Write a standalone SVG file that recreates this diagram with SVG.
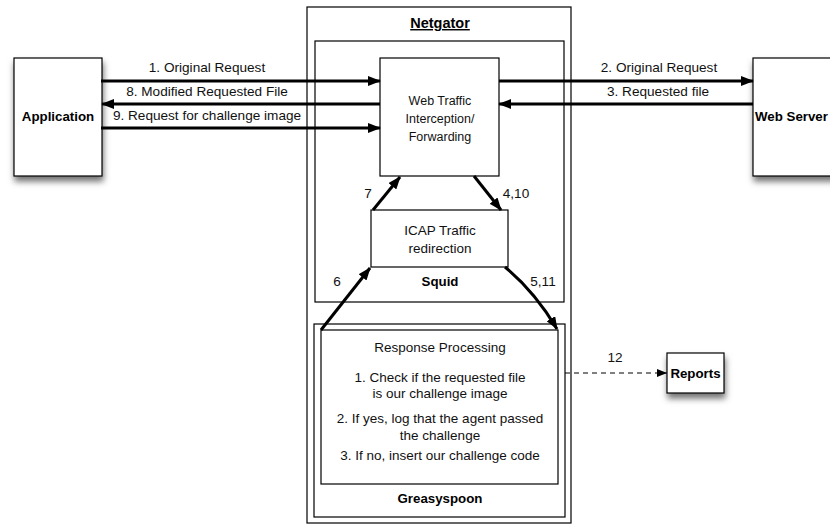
<svg xmlns="http://www.w3.org/2000/svg" width="830" height="525" viewBox="0 0 830 525">
<defs>
<style>
.box{fill:#fff;stroke:#000;stroke-width:1.2}
.t{font-family:"Liberation Sans",Arial,sans-serif;font-size:13.5px;fill:#111;text-anchor:middle}
.w{font-size:12.5px}
.b{font-family:"Liberation Sans",Arial,sans-serif;font-size:13.3px;font-weight:bold;fill:#000;text-anchor:middle}
.al{font-family:"Liberation Sans",Arial,sans-serif;font-size:13.6px;fill:#111;text-anchor:middle}
.c{fill:none;stroke:#000;stroke-width:3}
.d{fill:none;stroke:#000;stroke-width:1;stroke-dasharray:5,4}
</style>
<marker id="ah" viewBox="0 0 13 10" refX="12" refY="5" markerWidth="13" markerHeight="10" markerUnits="userSpaceOnUse" orient="auto">
<path d="M0,0 L13,5 L0,10 Z" fill="#000"/>
</marker>
<marker id="as" viewBox="0 0 10 8" refX="10" refY="4" markerWidth="10" markerHeight="8" markerUnits="userSpaceOnUse" orient="auto">
<path d="M0,0 L10,4 L0,8 Z" fill="#000"/>
</marker>
<filter id="sh" x="-20%" y="-20%" width="150%" height="160%">
<feDropShadow dx="1" dy="5" stdDeviation="3" flood-color="#000" flood-opacity="0.55"/>
</filter>
</defs>

<g id="application">
<rect class="box" x="14" y="58" width="88" height="118" filter="url(#sh)"/>
<text class="b" x="58" y="121">Application</text>
</g>

<g id="webserver">
<rect class="box" x="753" y="58" width="90" height="118" filter="url(#sh)"/>
<text class="b" x="755" y="121" style="text-anchor:start">Web Server</text>
</g>

<g id="reports">
<rect class="box" x="667" y="353" width="57" height="40" filter="url(#sh)"/>
<text class="b" x="695.5" y="378">Reports</text>
</g>

<g id="netgator">
<rect class="box" x="307" y="7" width="264" height="516"/>
<text class="b" x="440" y="28" style="font-size:14.5px;text-decoration:underline">Netgator</text>
</g>

<g id="squid">
<rect class="box" x="315" y="41" width="249" height="261"/>
<text class="b" x="440" y="286">Squid</text>
</g>

<g id="webtraffic">
<rect class="box" x="380" y="58" width="119" height="118"/>
<text class="t w" x="440" y="105">Web Traffic</text>
<text class="t w" x="440" y="123">Interception/</text>
<text class="t w" x="440" y="141">Forwarding</text>
</g>

<g id="icap">
<rect class="box" x="371" y="210" width="137" height="57"/>
<text class="t" x="440" y="235">ICAP Traffic</text>
<text class="t" x="440" y="253">redirection</text>
</g>

<g id="greasyspoon">
<rect class="box" x="314" y="324" width="251" height="193"/>
<rect class="box" x="321" y="330" width="237" height="154"/>
<text class="t" x="440" y="352">Response Processing</text>
<text class="t" x="440" y="382">1. Check if the requested file</text>
<text class="t" x="440" y="398">is our challenge image</text>
<text class="t" x="440" y="423">2. If yes, log that the agent passed</text>
<text class="t" x="440" y="440">the challenge</text>
<text class="t" x="440" y="460">3. If no, insert our challenge code</text>
<text class="b" x="440" y="503">Greasyspoon</text>
</g>

<g id="connectors">
<line class="c" x1="101" y1="81" x2="380" y2="81" marker-end="url(#ah)"/>
<line class="c" x1="380" y1="104" x2="102" y2="104" marker-end="url(#ah)"/>
<line class="c" x1="101" y1="128" x2="380" y2="128" marker-end="url(#ah)"/>
<line class="c" x1="499" y1="81" x2="753" y2="81" marker-end="url(#ah)"/>
<line class="c" x1="753" y1="104" x2="499" y2="104" marker-end="url(#ah)"/>
<line class="c" x1="373" y1="210" x2="400" y2="177" marker-end="url(#ah)"/>
<line class="c" x1="474" y1="176" x2="501" y2="210" marker-end="url(#ah)"/>
<line class="c" x1="321" y1="330" x2="370" y2="268" marker-end="url(#ah)"/>
<path class="c" d="M505,267 Q535,292 557,329" marker-end="url(#ah)"/>
<line class="d" x1="565" y1="373" x2="667" y2="373" marker-end="url(#as)"/>
<text class="al" x="207" y="72">1. Original Request</text>
<text class="al" x="207" y="96">8. Modified Requested File</text>
<text class="al" x="207" y="120">9. Request for challenge image</text>
<text class="al" x="659" y="72">2. Original Request</text>
<text class="al" x="658" y="96">3. Requested file</text>
<text class="al" x="368" y="198">7</text>
<text class="al" x="516" y="198">4,10</text>
<text class="al" x="337" y="286">6</text>
<text class="al" x="543" y="286">5,11</text>
<text class="al" x="615" y="362">12</text>
</g>
</svg>
